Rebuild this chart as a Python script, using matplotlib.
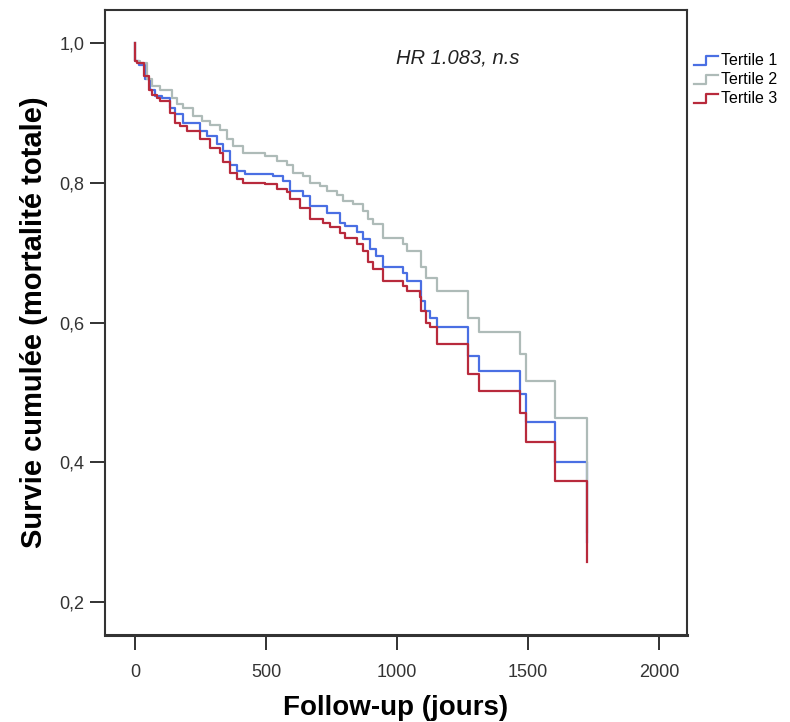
import matplotlib
matplotlib.use("Agg")
import matplotlib.pyplot as plt
from matplotlib.legend_handler import HandlerLine2D
from matplotlib.lines import Line2D
from matplotlib.ticker import FuncFormatter

plt.rcParams['font.family'] = ['Liberation Sans', 'DejaVu Sans']

# Kaplan-Meier step points (jours, survie)
t1_days = [0, 0, 13, 38, 57, 76, 102, 133, 153, 184, 248, 273, 312, 337, 362, 388, 420, 527,
           566, 591, 642, 667, 731, 782, 801, 846, 871, 896, 921, 947, 1024, 1036, 1093, 1106,
           1125, 1151, 1271, 1312, 1468, 1491, 1602, 1724]
t1_surv = [1.0, 0.974, 0.969, 0.948, 0.933, 0.924, 0.921, 0.907, 0.898, 0.886, 0.874, 0.867,
           0.855, 0.845, 0.826, 0.817, 0.812, 0.810, 0.802, 0.788, 0.781, 0.767, 0.757, 0.743,
           0.738, 0.729, 0.719, 0.705, 0.695, 0.679, 0.671, 0.660, 0.631, 0.617, 0.607, 0.593,
           0.552, 0.530, 0.498, 0.458, 0.401, 0.286]

t2_days = [0, 0, 19, 45, 64, 95, 140, 159, 184, 222, 254, 286, 324, 350, 375, 413, 496, 540,
           579, 604, 642, 667, 706, 731, 769, 794, 833, 871, 890, 909, 947, 1024, 1036, 1093,
           1112, 1151, 1271, 1312, 1468, 1494, 1602, 1724]
t2_surv = [1.0, 0.974, 0.971, 0.948, 0.938, 0.933, 0.921, 0.912, 0.907, 0.895, 0.888, 0.883,
           0.876, 0.862, 0.852, 0.843, 0.838, 0.831, 0.826, 0.814, 0.810, 0.800, 0.795, 0.788,
           0.783, 0.774, 0.769, 0.760, 0.748, 0.741, 0.721, 0.712, 0.702, 0.679, 0.664, 0.645,
           0.607, 0.586, 0.555, 0.517, 0.463, 0.300]

t3_days = [0, 0, 6, 32, 51, 64, 83, 95, 133, 153, 172, 197, 248, 286, 324, 337, 362, 388, 413,
           496, 540, 579, 591, 629, 667, 718, 744, 782, 801, 846, 871, 890, 909, 947, 1024,
           1036, 1087, 1093, 1112, 1125, 1151, 1271, 1312, 1468, 1491, 1602, 1724]
t3_surv = [1.0, 0.974, 0.971, 0.952, 0.933, 0.925, 0.921, 0.917, 0.900, 0.886, 0.881, 0.874,
           0.862, 0.850, 0.843, 0.829, 0.814, 0.805, 0.800, 0.798, 0.791, 0.786, 0.776, 0.764,
           0.748, 0.743, 0.736, 0.728, 0.721, 0.712, 0.702, 0.686, 0.676, 0.660, 0.652, 0.645,
           0.636, 0.617, 0.600, 0.593, 0.569, 0.527, 0.502, 0.470, 0.429, 0.373, 0.257]

labels = ['Tertile 1', 'Tertile 2', 'Tertile 3']
colors = ['#4a6fe3', '#aebbb8', '#b82a3c']
x_ticks = [0, 500, 1000, 1500, 2000]
y_ticks = [0.2, 0.4, 0.6, 0.8, 1.0]


class HandlerStep(HandlerLine2D):
    # small step glyph like SPSS legends
    def create_artists(self, legend, orig_handle, xdescent, ydescent, width, height, fontsize, trans):
        y0 = height * 0.05 - ydescent
        y1 = height * 0.85 - ydescent
        xs = [-xdescent, -xdescent + width * 0.5, -xdescent + width * 0.5, -xdescent + width]
        ys = [y0, y0, y1, y1]
        ln = Line2D(xs, ys, color=orig_handle.get_color(), lw=orig_handle.get_linewidth())
        ln.set_transform(trans)
        return [ln]


fig = plt.figure(figsize=(7.9, 7.22), dpi=100)
ax = fig.add_axes([0.133, 0.1205, 0.7366, 0.8656])

series = [(t1_days, t1_surv), (t2_days, t2_surv), (t3_days, t3_surv)]
handles = []
for (d, s), lab, c in zip(series, labels, colors):
    h, = ax.step(d, s, where='post', color=c, lw=1.6, label=lab)
    handles.append(h)

ax.set_xlim(-115, 2107)
ax.set_ylim(0.153, 1.047)
ax.set_xticks(x_ticks)
ax.set_yticks(y_ticks)
ax.yaxis.set_major_formatter(FuncFormatter(lambda v, p: ('%.1f' % v).replace('.', ',')))
ax.tick_params(axis='both', direction='out', length=11, width=1.3, colors='#222222',
               labelsize=13, labelcolor='#333333', pad=4)
ax.tick_params(axis='x', pad=10)
for sp in ax.spines.values():
    sp.set_color('#333333')
    sp.set_linewidth(1.5)
ax.spines['bottom'].set_linewidth(2.2)

ax.set_xlabel('Follow-up (jours)', fontsize=20, fontweight='bold', labelpad=10)
ax.set_ylabel('Survie cumulée (mortalité totale)', fontsize=21, fontweight='bold', labelpad=8)

ax.text(1230, 0.978, 'HR 1.083, n.s', fontsize=14.5, style='italic', ha='center', va='center',
        color='#222222')

fig.legend(handles, labels, handler_map={Line2D: HandlerStep()}, loc='upper left',
           bbox_to_anchor=(0.878, 0.926), frameon=False, fontsize=11.5, handlelength=1.5,
           handletextpad=0.2, labelspacing=0.25, borderaxespad=0, borderpad=0)

fig.savefig('out.png', dpi=100)
